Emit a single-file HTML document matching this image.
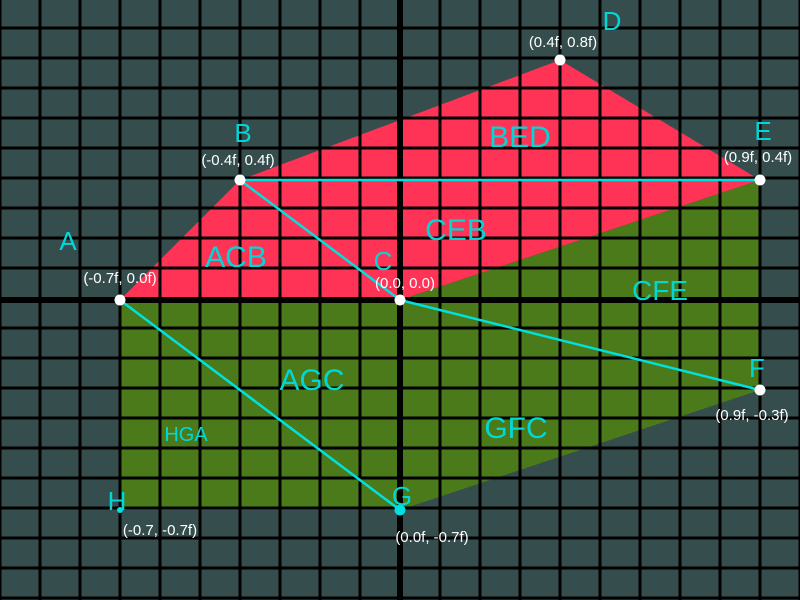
<!DOCTYPE html>
<html><head><meta charset="utf-8"><style>
html,body{margin:0;padding:0;background:#364d4d;}
svg{display:block;}
text{font-family:"Liberation Sans",sans-serif;}
</style></head><body>
<svg id="chart" width="800" height="600" viewBox="0 0 800 600" xmlns="http://www.w3.org/2000/svg">
<rect x="0" y="0" width="800" height="600" fill="#364d4d"/>
<g id="regions"></g>
<g id="grid"></g>
<g id="lines"></g>
<g id="points"></g>
<g id="labels"></g>
</svg>
<script>
const pointNames = ['A','B','C','D','E','F','G','H'];
const pointX = [-0.7,-0.4,0.0,0.4,0.9,0.9,0.0,-0.7];
const pointY = [0.0,0.4,0.0,0.8,0.4,-0.3,-0.7,-0.7];
const coordLabels = ['(-0.7f, 0.0f)','(-0.4f, 0.4f)','(0.0, 0.0)','(0.4f, 0.8f)','(0.9f, 0.4f)','(0.9f, -0.3f)','(0.0f, -0.7f)','(-0.7, -0.7f)'];
const redPolygon = ['A','B','D','E','C'];
const greenPolygon = ['A','C','E','F','G','H'];
const segments = [['B','E'],['B','C'],['A','G'],['C','F']];
const regionNames = ['BED','CEB','ACB','CFE','AGC','GFC','HGA'];
const regionX = [0.3,0.14,-0.41,0.65,-0.22,0.29,-0.535];
const regionY = [0.51,0.2,0.11,0.0,-0.3,-0.46,-0.47];
const regionSize = [30,30,30,28,30,30,20];

// label offsets (styling, not data)
const nameDX = [-52,3,-17,52,3,-3,2,-3];
const nameDY = [-50,-158+0,-30,-30,-40,-13,-5,0];
const coordDX = [0,-2,5,3,-2,-8,32,40];
const coordDY = [-17,-15,-12,-13,-18,30,32,25];

const NS='http://www.w3.org/2000/svg';
const sx = v => 400 + v*400;
const sy = v => 300 - v*300;
function mk(tag, attrs, parent){const e=document.createElementNS(NS,tag);for(const k in attrs)e.setAttribute(k,attrs[k]);document.getElementById(parent).appendChild(e);return e;}
const idx = n => pointNames.indexOf(n);
function polyPts(list){return list.map(n=>sx(pointX[idx(n)])+','+sy(pointY[idx(n)])).join(' ');}

let p1 = mk('polygon',{points:polyPts(redPolygon),fill:'#ff3355'},'regions');


let p2 = mk('polygon',{points:polyPts(greenPolygon),fill:'#4a7a1a'},'regions');



for(let x=0;x<=800;x+=40){
  const ax = x===400;
  let l = mk('line',{x1:x,y1:0,x2:x,y2:600,stroke:'#000','stroke-width':ax?6:3},'grid');
  
  
}
for(let y=0;y<=600;y+=30){
  const ax = y===300;
  let l = mk('line',{x1:0,y1:y-(ax?0:2),x2:800,y2:y-(ax?0:2),stroke:'#000','stroke-width':ax?6:3},'grid');
  
  
}
segments.forEach(s=>{
  const a=idx(s[0]),b=idx(s[1]);
  let l = mk('line',{x1:sx(pointX[a]),y1:sy(pointY[a]),x2:sx(pointX[b]),y2:sy(pointY[b]),stroke:'#00e0e0','stroke-width':2.5},'lines');
  
  
});
pointNames.forEach((n,i)=>{
  const x=sx(pointX[i]),y=sy(pointY[i]);
  const isH = n==='H';
  let c = mk('circle',{cx:x,cy:y,r:isH?3:5.5,fill:(isH||n==='G')?'#00e0e0':'#fff'},'points');
  
  
  let ndy = nameDY[i]; if(n==='B') ndy=-38;
  let t = mk('text',{x:x+nameDX[i],y:y+ndy,fill:'#00d8d8','font-size':26,'text-anchor':'middle'},'labels');
  t.textContent=n;
  
  
  let ct = mk('text',{x:x+coordDX[i],y:y+coordDY[i],fill:'#fff','font-size':15,'text-anchor':'middle'},'labels');
  ct.textContent=coordLabels[i];
  
  
});
regionNames.forEach((r,i)=>{
  let t = mk('text',{x:sx(regionX[i]),y:sy(regionY[i]),fill:'#00d8d8','font-size':regionSize[i],'text-anchor':'middle'},'labels');
  t.textContent=r;
  
  
});
</script>
</body></html>
